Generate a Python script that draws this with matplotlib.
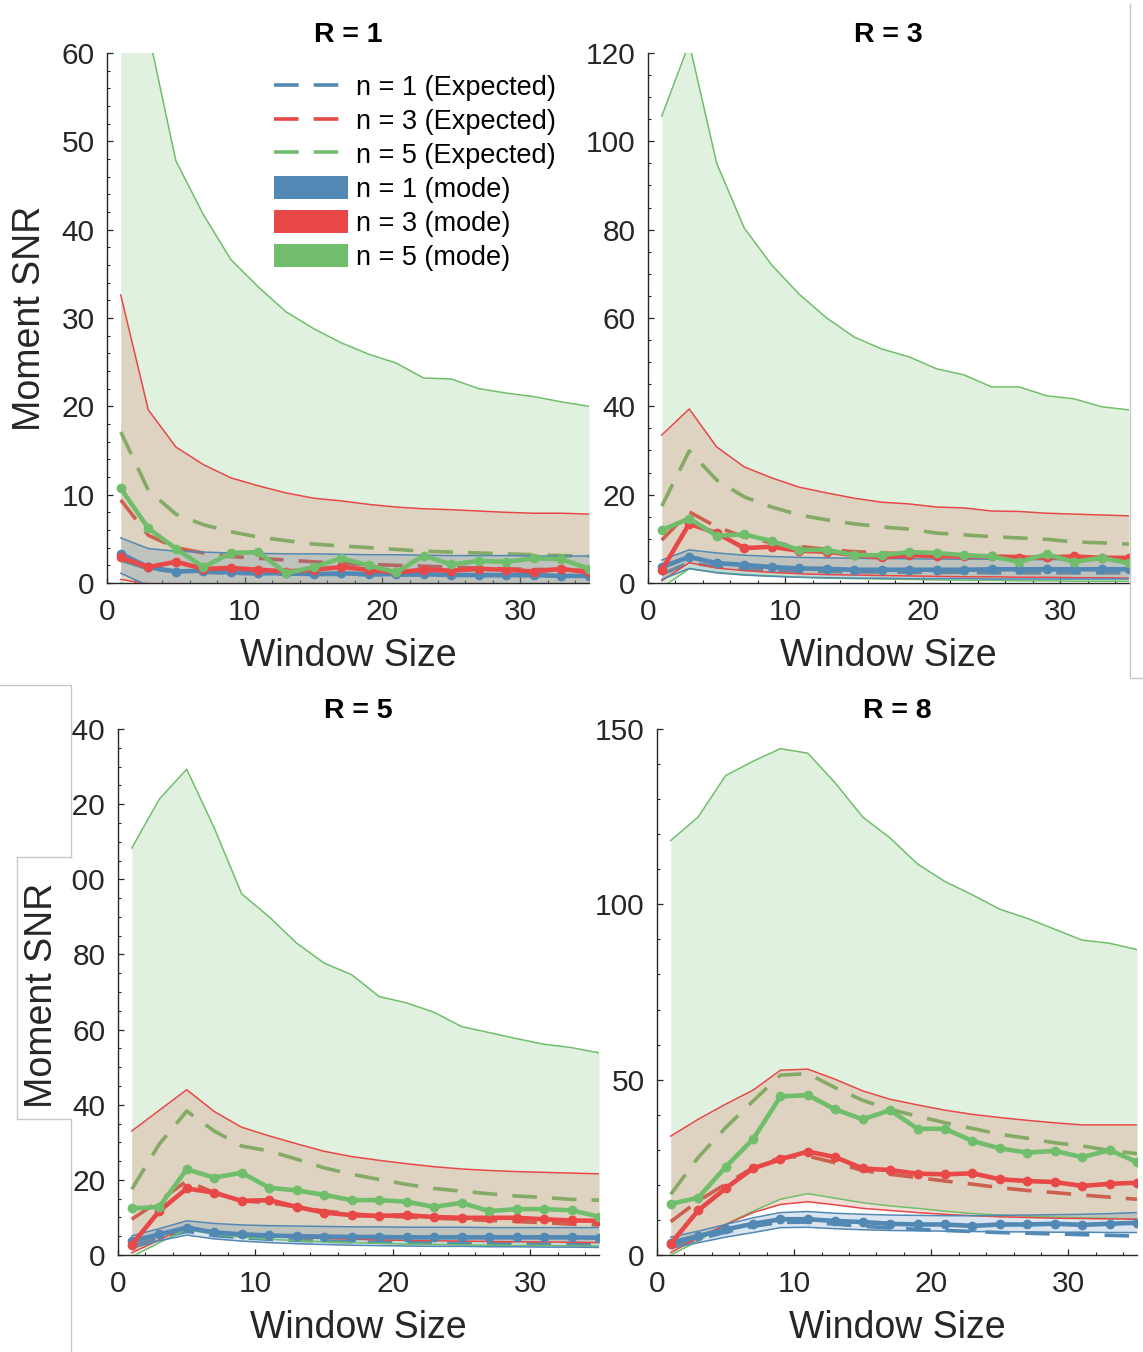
import matplotlib
matplotlib.use("Agg")
import matplotlib.pyplot as plt
from matplotlib.ticker import MultipleLocator
from matplotlib.lines import Line2D
from matplotlib.patches import Patch, Rectangle

plt.rcParams['font.family'] = ['Liberation Sans', 'DejaVu Sans']

# ---------------------------------------------------------------- data
window = [1, 3, 5, 7, 9, 11, 13, 15, 17, 19, 21, 23, 25, 27, 29, 31, 33, 35]

# R = 1
r1_exp_n1 = [2.6, 1.6, 1.3, 1.2, 1.1, 1.05, 1.0, 1.0, 0.95, 0.95, 0.9, 0.9, 0.9, 0.85, 0.85, 0.85, 0.8, 0.8]
r1_exp_n3 = [9.4, 5.4, 4.0, 3.4, 3.0, 2.8, 2.6, 2.4, 2.2, 2.1, 2.0, 1.9, 1.8, 1.7, 1.6, 1.55, 1.5, 1.45]
r1_exp_n5 = [17.1, 10.5, 7.8, 6.6, 5.8, 5.2, 4.8, 4.4, 4.2, 4.0, 3.8, 3.6, 3.5, 3.4, 3.3, 3.2, 3.1, 3.05]
r1_mode_n1 = [3.3, 1.8, 1.3, 1.4, 1.2, 1.1, 1.1, 1.0, 1.1, 1.0, 1.0, 1.0, 0.9, 0.9, 0.9, 0.9, 0.8, 0.8]
r1_mode_n3 = [2.9, 1.8, 2.4, 1.6, 1.7, 1.5, 1.3, 1.5, 1.8, 1.5, 1.2, 1.5, 1.4, 1.6, 1.5, 1.3, 1.6, 1.2]
r1_mode_n5 = [10.7, 6.2, 3.9, 1.8, 3.4, 3.5, 1.1, 1.8, 2.8, 2.0, 1.2, 3.1, 2.1, 2.5, 2.4, 2.8, 2.7, 1.6]
r1_lo_n1 = [1.1, -0.3, -0.9, -1.1, -1.2, -1.2, -1.3, -1.3, -1.3, -1.3, -1.4, -1.4, -1.4, -1.4, -1.4, -1.4, -1.5, -1.5]
r1_hi_n1 = [5.1, 3.9, 3.6, 3.5, 3.4, 3.35, 3.3, 3.3, 3.25, 3.2, 3.2, 3.15, 3.1, 3.1, 3.1, 3.05, 3.05, 3.05]
r1_lo_n3 = [0.4, -0.1, -0.8, -1.2, -1.5, -1.7, -1.8, -1.9, -2.0, -2.0, -2.1, -2.1, -2.2, -2.2, -2.2, -2.3, -2.3, -2.3]
r1_hi_n3 = [32.6, 19.6, 15.4, 13.4, 11.9, 11.0, 10.2, 9.6, 9.3, 8.9, 8.6, 8.4, 8.3, 8.15, 8.0, 7.9, 7.9, 7.8]
r1_lo_n5 = [0.05, -1.5, -2.5, -3.0, -3.3, -3.5, -3.6, -3.7, -3.8, -3.9, -3.9, -4.0, -4.0, -4.0, -4.1, -4.1, -4.1, -4.1]
r1_hi_n5 = [95.0, 62.4, 47.8, 41.7, 36.6, 33.5, 30.7, 28.8, 27.2, 25.9, 24.9, 23.2, 23.1, 22.0, 21.5, 21.1, 20.5, 20.0]

# R = 3
r3_exp_n1 = [2.0, 4.6, 3.7, 3.2, 2.9, 2.7, 2.6, 2.5, 2.5, 2.4, 2.4, 2.4, 2.3, 2.3, 2.3, 2.3, 2.3, 2.3]
r3_exp_n3 = [9.7, 16.1, 12.7, 10.4, 9.1, 8.3, 7.6, 7.1, 6.8, 6.6, 6.4, 6.2, 6.1, 6.0, 5.9, 5.8, 5.7, 5.6]
r3_exp_n5 = [17.4, 29.9, 23.3, 19.5, 17.2, 15.4, 14.3, 13.4, 12.7, 12.2, 11.3, 10.9, 10.5, 10.2, 9.9, 9.3, 9.1, 8.8]
r3_mode_n1 = [3.6, 5.9, 4.5, 4.1, 3.6, 3.3, 3.2, 3.0, 3.0, 3.0, 3.0, 3.0, 3.1, 3.1, 3.1, 3.1, 3.1, 3.1]
r3_mode_n3 = [2.9, 13.4, 11.3, 7.9, 8.2, 7.3, 7.1, 6.3, 5.8, 6.3, 6.1, 6.0, 6.0, 5.7, 5.8, 6.0, 5.7, 5.7]
r3_mode_n5 = [12.0, 14.6, 10.7, 11.0, 9.5, 7.5, 7.5, 6.3, 6.3, 7.0, 6.8, 6.3, 6.0, 4.8, 6.5, 4.8, 5.7, 4.5]
r3_lo_n1 = [0.8, 3.3, 2.3, 1.8, 1.5, 1.3, 1.2, 1.1, 1.1, 1.0, 1.0, 1.0, 0.9, 0.9, 0.9, 0.9, 0.9, 0.9]
r3_hi_n1 = [5.2, 7.5, 6.8, 6.3, 6.0, 5.8, 5.7, 5.6, 5.5, 5.5, 5.4, 5.4, 5.4, 5.3, 5.3, 5.3, 5.2, 5.2]
r3_lo_n3 = [0.5, 4.6, 3.4, 2.8, 2.4, 2.1, 1.9, 1.8, 1.7, 1.6, 1.5, 1.4, 1.4, 1.3, 1.3, 1.2, 1.2, 1.1]
r3_hi_n3 = [33.5, 39.4, 30.8, 26.3, 23.8, 21.7, 20.4, 19.2, 18.3, 17.9, 17.2, 17.0, 16.3, 16.2, 15.8, 15.6, 15.4, 15.2]
r3_lo_n5 = [-1.0, 3.2, 2.4, 1.9, 1.6, 1.3, 1.1, 1.0, 0.9, 0.8, 0.7, 0.6, 0.6, 0.5, 0.5, 0.4, 0.4, 0.4]
r3_hi_n5 = [105.7, 122.2, 95.0, 80.4, 72.0, 65.4, 60.0, 55.7, 53.0, 51.2, 48.5, 47.1, 44.4, 44.4, 42.4, 41.7, 39.9, 39.2]

# R = 5
r5_exp_n1 = [2.5, 4.5, 6.3, 5.2, 4.6, 4.2, 3.9, 3.7, 3.5, 3.4, 3.3, 3.2, 3.1, 3.0, 3.0, 2.9, 2.9, 2.8]
r5_exp_n3 = [9.5, 14.4, 19.7, 16.6, 14.4, 13.9, 12.8, 11.7, 11.0, 10.4, 10.1, 9.8, 9.5, 9.2, 8.9, 8.6, 8.2, 8.0]
r5_exp_n5 = [17.5, 29.5, 38.3, 33.0, 29.0, 27.7, 25.5, 23.2, 21.5, 20.1, 18.8, 17.7, 17.0, 16.3, 15.7, 15.3, 14.8, 14.6]
r5_mode_n1 = [3.7, 5.5, 7.3, 6.0, 5.5, 5.2, 5.0, 4.9, 4.8, 4.8, 4.7, 4.7, 4.7, 4.7, 4.7, 4.7, 4.7, 4.6]
r5_mode_n3 = [2.7, 11.7, 17.7, 16.6, 14.4, 14.6, 12.8, 11.3, 10.6, 10.4, 10.6, 10.1, 9.9, 9.9, 9.9, 9.5, 9.2, 9.1]
r5_mode_n5 = [12.4, 12.8, 22.8, 20.6, 21.9, 17.9, 17.2, 16.0, 14.6, 14.6, 14.2, 12.8, 13.9, 11.7, 12.2, 12.2, 11.9, 10.2]
r5_lo_n1 = [1.8, 3.8, 5.3, 4.3, 3.7, 3.3, 3.0, 2.8, 2.6, 2.5, 2.4, 2.3, 2.3, 2.2, 2.2, 2.1, 2.1, 2.0]
r5_hi_n1 = [5.1, 7.0, 9.1, 8.4, 8.0, 7.8, 7.7, 7.6, 7.5, 7.5, 7.4, 7.4, 7.4, 7.3, 7.3, 7.3, 7.3, 7.3]
r5_lo_n3 = [0.6, 4.0, 7.7, 6.2, 5.5, 5.0, 4.6, 4.4, 4.2, 4.0, 3.9, 3.8, 3.7, 3.6, 3.5, 3.5, 3.4, 3.3]
r5_hi_n3 = [33.0, 38.5, 44.0, 38.2, 34.0, 31.7, 29.6, 27.6, 26.2, 25.2, 24.3, 23.5, 22.9, 22.5, 22.2, 22.0, 21.8, 21.6]
r5_lo_n5 = [-0.5, 3.3, 6.8, 5.5, 4.7, 4.2, 3.8, 3.5, 3.3, 3.1, 2.9, 2.8, 2.7, 2.6, 2.5, 2.5, 2.4, 2.4]
r5_hi_n5 = [108.3, 121.3, 129.3, 113.7, 96.1, 90.0, 83.0, 77.7, 74.6, 68.8, 67.1, 64.6, 60.8, 59.2, 57.6, 56.1, 55.2, 53.8]

# R = 8
r8_exp_n1 = [2.4, 4.5, 6.5, 8.2, 9.3, 9.4, 8.8, 8.2, 7.7, 7.3, 7.0, 6.7, 6.4, 6.2, 6.0, 5.8, 5.6, 5.4]
r8_exp_n3 = [9.5, 15.4, 20.2, 24.9, 27.8, 28.2, 26.3, 24.1, 23.0, 22.1, 21.1, 20.2, 19.2, 18.4, 17.8, 17.1, 16.5, 15.9]
r8_exp_n5 = [17.3, 27.8, 36.3, 43.9, 51.3, 51.7, 47.7, 44.1, 41.5, 39.6, 37.7, 36.1, 34.4, 33.3, 32.0, 31.1, 29.8, 28.9]
r8_mode_n1 = [3.5, 5.4, 7.3, 8.9, 10.2, 10.2, 9.7, 9.4, 8.9, 8.7, 8.7, 8.3, 8.7, 8.7, 8.9, 8.6, 8.9, 9.2]
r8_mode_n3 = [3.2, 12.7, 19.0, 24.7, 27.3, 29.5, 27.9, 24.7, 24.2, 23.2, 23.0, 23.3, 21.6, 21.1, 20.8, 19.7, 20.3, 20.6]
r8_mode_n5 = [14.6, 16.3, 25.1, 33.0, 45.2, 45.6, 41.5, 38.7, 41.3, 36.0, 36.0, 32.5, 30.4, 29.2, 29.7, 27.9, 29.9, 26.5]
r8_lo_n1 = [1.9, 3.5, 5.1, 6.4, 7.8, 7.9, 7.5, 7.2, 7.0, 6.9, 6.8, 6.7, 6.6, 6.6, 6.5, 6.5, 6.4, 6.4]
r8_hi_n1 = [5.1, 6.8, 8.7, 10.6, 12.1, 12.4, 11.9, 11.6, 11.4, 11.3, 11.2, 11.2, 11.3, 11.4, 11.5, 11.6, 11.8, 12.1]
r8_lo_n3 = [0.7, 4.9, 8.7, 12.1, 14.4, 15.2, 14.3, 13.3, 12.7, 12.1, 11.6, 11.2, 10.9, 10.7, 10.5, 10.4, 10.3, 10.2]
r8_hi_n3 = [33.9, 38.7, 43.0, 47.0, 52.7, 53.0, 50.1, 46.8, 44.4, 42.8, 41.3, 40.1, 39.2, 38.4, 37.7, 37.1, 37.1, 37.1]
r8_lo_n5 = [0.0, 4.0, 8.7, 12.5, 15.9, 17.5, 16.2, 14.9, 14.0, 13.3, 12.5, 11.8, 11.4, 11.1, 10.8, 10.6, 10.5, 10.2]
r8_hi_n5 = [118.2, 124.9, 136.7, 140.8, 144.4, 143.1, 134.6, 124.9, 118.9, 111.5, 106.5, 102.7, 98.6, 96.0, 92.9, 89.8, 88.9, 87.1]

orders = [1, 3, 5]
colors = {1: '#5288b4', 3: '#e84848', 5: '#70be6c'}
band_colors = {1: '#5288b4', 3: '#d26450', 5: '#70be6c'}

panels = [
    dict(title='R = 1', rect=(107, 53, 589, 583), ymax=60, major=10, minor=2,
         exp=[r1_exp_n1, r1_exp_n3, r1_exp_n5], mode=[r1_mode_n1, r1_mode_n3, r1_mode_n5],
         lo=[r1_lo_n1, r1_lo_n3, r1_lo_n5], hi=[r1_hi_n1, r1_hi_n3, r1_hi_n5]),
    dict(title='R = 3', rect=(648, 53, 1129, 583), ymax=120, major=20, minor=5,
         exp=[r3_exp_n1, r3_exp_n3, r3_exp_n5], mode=[r3_mode_n1, r3_mode_n3, r3_mode_n5],
         lo=[r3_lo_n1, r3_lo_n3, r3_lo_n5], hi=[r3_hi_n1, r3_hi_n3, r3_hi_n5]),
    dict(title='R = 5', rect=(118, 729, 599, 1255), ymax=140, major=20, minor=5,
         exp=[r5_exp_n1, r5_exp_n3, r5_exp_n5], mode=[r5_mode_n1, r5_mode_n3, r5_mode_n5],
         lo=[r5_lo_n1, r5_lo_n3, r5_lo_n5], hi=[r5_hi_n1, r5_hi_n3, r5_hi_n5]),
    dict(title='R = 8', rect=(657, 729, 1137, 1255), ymax=150, major=50, minor=10,
         exp=[r8_exp_n1, r8_exp_n3, r8_exp_n5], mode=[r8_mode_n1, r8_mode_n3, r8_mode_n5],
         lo=[r8_lo_n1, r8_lo_n3, r8_lo_n5], hi=[r8_hi_n1, r8_hi_n3, r8_hi_n5]),
]

# ---------------------------------------------------------------- layout
W, H = 1143, 1352
fig = plt.figure(figsize=(W / 100, H / 100), dpi=100)
INK = '#262626'
DASH = (0, (6.8, 4.2))


def px_rect(x0, y0, x1, y1):
    return [x0 / W, 1 - y1 / H, (x1 - x0) / W, (y1 - y0) / H]


axes = []
for p in panels:
    ax = fig.add_axes(px_rect(*p['rect']))
    axes.append(ax)
    # expected curves sit underneath the shaded bands
    for k, n in enumerate(orders):
        ax.plot(window, p['exp'][k], color=colors[n], lw=2.6, ls=DASH, zorder=1)
    for k in (2, 1, 0):
        n = orders[k]
        ax.fill_between(window, p['lo'][k], p['hi'][k], color=band_colors[n],
                        alpha=0.21, lw=0, zorder=2)
    for k in (2, 1, 0):
        c = colors[orders[k]]
        ax.plot(window, p['lo'][k], color=c, lw=1.1, zorder=3)
        ax.plot(window, p['hi'][k], color=c, lw=1.1, zorder=3)
    for k in (0, 1, 2):
        c = colors[orders[k]]
        ax.plot(window, p['mode'][k], color=c, lw=3.3, marker='o', ms=6, zorder=4)

    ax.set_xlim(0, 35)
    ax.set_ylim(0, p['ymax'])
    ax.xaxis.set_major_locator(MultipleLocator(10))
    ax.xaxis.set_minor_locator(MultipleLocator(2))
    ax.yaxis.set_major_locator(MultipleLocator(p['major']))
    ax.yaxis.set_minor_locator(MultipleLocator(p['minor']))
    for s in ('top', 'right'):
        ax.spines[s].set_visible(False)
    for s in ('left', 'bottom'):
        ax.spines[s].set_color(INK)
        ax.spines[s].set_linewidth(1.0)
    ax.tick_params(which='both', direction='in', colors=INK, labelsize=21.5)
    ax.tick_params(which='major', length=4.0, width=0.9)
    ax.tick_params(which='minor', length=2.2, width=0.8)
    ax.tick_params(axis='x', which='major', pad=11)
    ax.tick_params(axis='y', which='major', pad=9)
    ax.set_title(p['title'], fontsize=20.5, fontweight='bold', color='black', pad=8)
    ax.set_xlabel('Window Size', fontsize=27, color=INK)
    ax.xaxis.set_label_coords(0.5, -0.138)
    ax.xaxis.label.set_va('center')

axes[0].set_ylabel('Moment SNR', fontsize=27, color=INK)
axes[0].yaxis.set_label_coords(-0.16, 0.5)
axes[0].yaxis.label.set_va('center')

handles = [Line2D([], [], color=colors[n], lw=2.6, ls=DASH) for n in orders]
handles += [Patch(facecolor=colors[n], edgecolor='none') for n in orders]
labels = [f'n = {n} (Expected)' for n in orders] + [f'n = {n} (mode)' for n in orders]
axes[0].legend(handles, labels, loc='upper left', bbox_to_anchor=(0.346, 0.96),
               frameon=False, fontsize=19.5, handlelength=2.75, handleheight=0.95,
               handletextpad=0.3, labelspacing=0.255, borderpad=0, borderaxespad=0)

# framing strips around the lower-left panel and the upper-right border
EDGE = '#c8c8c8'


def fig_box(x0, y0, x1, y1, **kw):
    fig.add_artist(Rectangle((x0 / W, 1 - y1 / H), (x1 - x0) / W, (y1 - y0) / H,
                             transform=fig.transFigure, **kw))


def fig_line(xs, ys):
    fig.add_artist(Line2D([x / W for x in xs], [1 - y / H for y in ys],
                          transform=fig.transFigure, color=EDGE, lw=1.0, zorder=6))


XE = 70.5
fig_box(0, 685, XE, 857, facecolor='white', edgecolor='none', zorder=5)
fig_box(17, 857, XE, 1119, facecolor='white', edgecolor='none', zorder=5)
fig_line([0, XE, XE], [685, 685, 857])
fig_line([XE, 17, 17, XE], [857, 857, 1119, 1119])
fig_line([XE, XE], [1119, H])
fig_line([1129.5, 1129.5, W], [4, 678, 678])
fig.text(42 / W, 1 - 995 / H, 'Moment SNR', rotation=90, fontsize=27, color=INK,
         ha='center', va='center', zorder=7)

fig.savefig('out.png', dpi=100, facecolor='white')
